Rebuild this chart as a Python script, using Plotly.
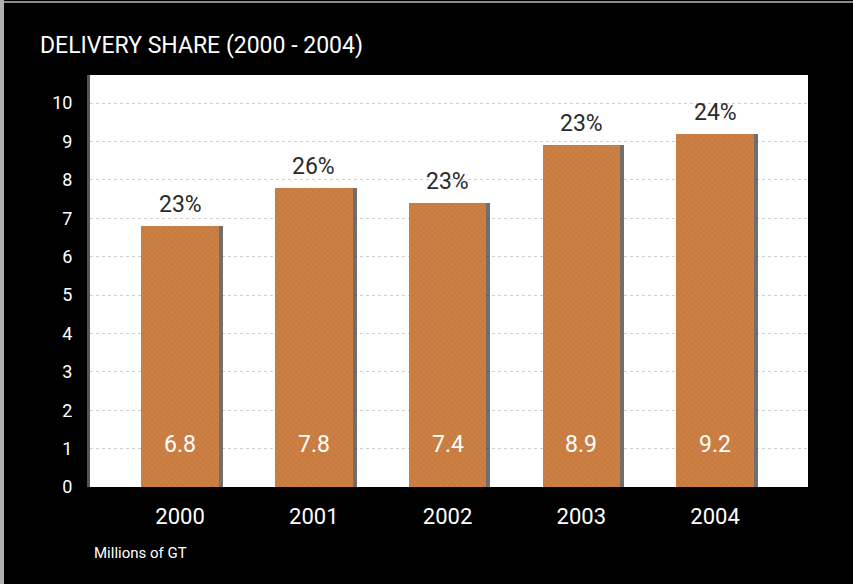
import plotly.graph_objects as go

years = ["2000", "2001", "2002", "2003", "2004"]
positions = [0, 1, 2, 3, 4]
values = [6.8, 7.8, 7.4, 8.9, 9.2]
shares = ["23%", "26%", "23%", "23%", "24%"]
y_ticks = [0, 1, 2, 3, 4, 5, 6, 7, 8, 9, 10]

FONT = "Roboto, Liberation Sans, sans-serif"

W, H = 853, 584
L, R, T, B = 90, 45, 75, 97
PW, PH = W - L - R, H - T - B

fig = go.Figure()
# soft shadow behind bars
fig.add_trace(go.Bar(
    x=[p + 0.03 for p in positions], y=values, width=0.58,
    marker=dict(color="rgba(50,50,50,0.7)", line=dict(width=0)),
    hoverinfo="skip", showlegend=False,
))
fig.add_trace(go.Bar(
    x=positions, y=values, width=0.58,
    marker=dict(color="#c87a3c", line=dict(width=0),
                pattern=dict(shape="x", fgcolor="#b4652e", bgcolor="#cc8044",
                             size=4, solidity=0.25)),
    showlegend=False,
))

for p, v, s in zip(positions, values, shares):
    fig.add_annotation(x=p, y=v, text=s, showarrow=False, yanchor="bottom", yshift=6,
                       font=dict(family=FONT, size=23, color="#2a2a2a"))
    fig.add_annotation(x=p, y=1.1, text=f"{v:.1f}", showarrow=False,
                       font=dict(family=FONT, size=23, color="white"))

fig.add_annotation(xref="paper", yref="paper", x=(38 - L) / PW, y=1 + (T - 45) / PH,
                   xanchor="left", yanchor="middle",
                   text="DELIVERY SHARE (2000 - 2004)", showarrow=False,
                   font=dict(family=FONT, size=23, color="white"))
fig.add_annotation(xref="paper", yref="paper", x=(92 - L) / PW, y=-(553 - (H - B)) / PH,
                   xanchor="left", yanchor="middle",
                   text="Millions of GT", showarrow=False,
                   font=dict(family=FONT, size=15, color="white"))

# thin grey frame on the top and left edges of the picture
fig.add_shape(type="line", xref="paper", yref="paper",
              x0=(0 - L) / PW, x1=(W - L) / PW, y0=1 + (T - 2) / PH, y1=1 + (T - 2) / PH,
              line=dict(color="#8a8a8a", width=2), layer="above")
fig.add_shape(type="line", xref="paper", yref="paper",
              x0=(2 - L) / PW, x1=(2 - L) / PW, y0=-B / PH, y1=1 + T / PH,
              line=dict(color="#b0b0b0", width=4), layer="above")

fig.update_layout(
    width=W, height=H,
    paper_bgcolor="black", plot_bgcolor="white",
    margin=dict(l=L, r=R, t=T, b=B),
    barmode="overlay", bargap=0,
    xaxis=dict(range=[-0.673, 4.695], tickmode="array", tickvals=positions, ticktext=years,
               showgrid=False, zeroline=False, showline=True, linecolor="black", linewidth=2,
               ticks="outside", ticklen=9, tickcolor="black",
               tickfont=dict(family=FONT, size=22, color="white")),
    yaxis=dict(range=[0, 10.73], tickmode="array", tickvals=y_ticks,
               showgrid=True, gridcolor="#d6cdc6", griddash="dot", gridwidth=1,
               zeroline=False, showline=True, linecolor="#555555", linewidth=3,
               ticks="outside", ticklen=11, tickcolor="black",
               tickfont=dict(family=FONT, size=18, color="white")),
)

fig.write_html("out.html", config={"displayModeBar": False},
               post_script="document.body.style.margin='0';document.body.style.background='black';")
